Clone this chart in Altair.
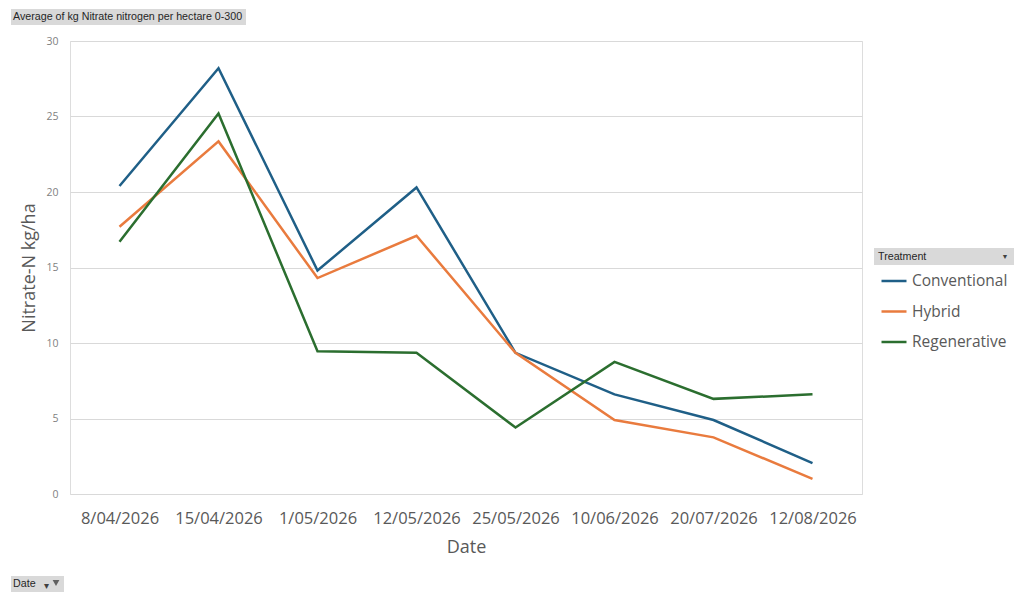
import altair as alt
import pandas as pd

dates = ["8/04/2026", "15/04/2026", "1/05/2026", "12/05/2026",
         "25/05/2026", "10/06/2026", "20/07/2026", "12/08/2026"]
treatments = ["Conventional", "Hybrid", "Regenerative"]
conventional = [20.4, 28.2, 14.8, 20.3, 9.35, 6.6, 4.9, 2.05]
hybrid = [17.7, 23.35, 14.3, 17.1, 9.35, 4.9, 3.75, 1.0]
regenerative = [16.7, 25.2, 9.45, 9.35, 4.4, 8.75, 6.3, 6.6]
colors = ["#1f5f87", "#e97b3e", "#2b6e2f"]

rows = []
for name, vals in zip(treatments, [conventional, hybrid, regenerative]):
    for d, v in zip(dates, vals):
        rows.append({"Date": d, "Treatment": name, "value": v})
df = pd.DataFrame(rows)

FONT = "Open Sans"
BTN_FONT = "Liberation Sans"

lines = alt.Chart(df).mark_line(strokeWidth=2.5).encode(
    x=alt.X("Date:N", sort=dates, scale=alt.Scale(type="point", padding=0.5),
            axis=alt.Axis(title="Date", labelAngle=0, labelFontSize=16.5,
                          labelColor="#595959", labelFont=FONT, labelPadding=16,
                          ticks=False, domain=False, grid=False,
                          titleFontSize=18, titleColor="#595959", titleFont=FONT,
                          titleFontWeight="normal", titlePadding=12)),
    y=alt.Y("value:Q", scale=alt.Scale(domain=[0, 30], nice=False),
            axis=alt.Axis(title="Nitrate-N kg/ha", values=[0, 5, 10, 15, 20, 25, 30],
                          labelFontSize=10.5, labelColor="#7f7f7f", labelFont=FONT,
                          labelPadding=12, ticks=False, domain=False,
                          gridColor="#d9d9d9", gridWidth=1,
                          titleFontSize=18, titleColor="#595959", titleFont=FONT,
                          titleFontWeight="normal", titlePadding=7)),
    color=alt.Color("Treatment:N", sort=treatments,
                    scale=alt.Scale(domain=treatments, range=colors),
                    legend=alt.Legend(title=None, orient="none", legendX=810, legendY=226,
                                      symbolType="stroke", symbolSize=625,
                                      symbolStrokeWidth=2.5, labelFontSize=15.5,
                                      labelColor="#595959", labelFont=FONT,
                                      labelOffset=4, rowPadding=7.5, padding=0)),
)

one = pd.DataFrame({"k": [0]})

def button(x1, x2, y1, y2):
    return alt.Chart(one).mark_rect(color="#d9d9d9").encode(
        x=alt.value(x1), x2=alt.value(x2), y=alt.value(y1), y2=alt.value(y2))

def label(txt, x, y, size=10.7, align="left", color="#262626"):
    return alt.Chart(one).mark_text(text=txt, align=align, baseline="middle",
                                    fontSize=size, font=BTN_FONT, color=color).encode(
        x=alt.value(x), y=alt.value(y))

top_btn = button(-59, 176, -32, -16)
top_txt = label("Average of kg Nitrate nitrogen per hectare 0-300", -57, -24)
tr_btn = button(804, 945, 207, 224)
tr_txt = label("Treatment", 808, 215.5)
tr_arrow = label("▼", 935, 215.5, size=7, align="center", color="#404040")
date_btn = button(-59, -6, 535, 551)
date_txt = label("Date", -57, 543)
date_arrow = label("▾", -24, 545, size=10, align="center", color="#404040")
funnel = alt.Chart(one).mark_point(shape="triangle-down", filled=True, size=45,
                                   color="#606060", opacity=1).encode(
    x=alt.value(-14), y=alt.value(542))

chart = alt.layer(lines, top_btn, top_txt, tr_btn, tr_txt, tr_arrow,
                  date_btn, date_txt, date_arrow, funnel).properties(
    width=792, height=453,
    autosize=alt.AutoSizeParams(type="none"),
    padding={"left": 62, "top": 33, "right": 152, "bottom": 100},
).configure_view(stroke=None).configure(background="white")

chart.save("out.html", embed_options={"renderer": "svg", "actions": False})
